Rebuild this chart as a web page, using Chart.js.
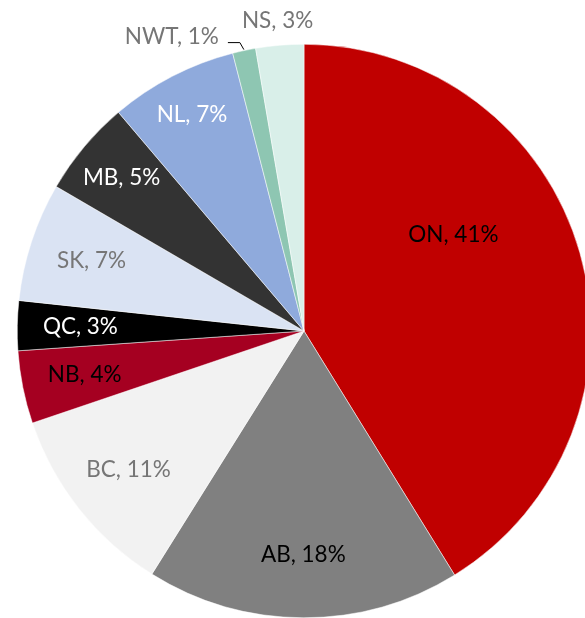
<!DOCTYPE html>
<html>
<head>
<meta charset="utf-8">
<script src="https://cdn.jsdelivr.net/npm/chart.js@4/dist/chart.umd.min.js"></script>
<style>
  html, body { margin: 0; padding: 0; background: #fff; overflow: hidden; }
  #wrap { width: 585px; height: 618px; overflow: hidden; }
</style>
</head>
<body>
<div id="wrap"><canvas id="pie" width="600" height="618"></canvas></div>
<script>
// share by province
const provinces = ['ON', 'AB', 'BC', 'NB', 'QC', 'SK', 'MB', 'NL', 'NWT', 'NS'];
const shares = [41.2, 17.7, 10.9, 4.1, 2.8, 6.7, 5.4, 7.2, 1.3, 2.7];
const sliceColors = ['#C00000', '#808080', '#F2F2F2', '#A50021', '#000000',
                     '#DAE3F3', '#333333', '#8FAADC', '#8EC6B2', '#D9EFE9'];
const labelColors = ['#000', '#000', '#767676', '#000', '#fff',
                     '#767676', '#fff', '#fff', '#767676', '#767676'];

// label placement: fraction of radius, angle shift in degrees, or outside
const labelPlace = {
    ON: { r: 0.62, shift: -17 },
    MB: { r: 0.83, shift: 0 },
    NL: { r: 0.85, shift: 0 },
    NWT: { outside: 'leader' },
    NS: { outside: 'plain' }
};

const total = shares.reduce((a, b) => a + b, 0);
const FONT = '22.5px "Source Sans Pro", Lato, "Noto Sans", sans-serif';

const labelPlugin = {
    id: 'sliceLabels',
    afterDatasetsDraw(chart) {
        const ctx = chart.ctx;
        const arcs = chart.getDatasetMeta(0).data;
        ctx.save();
        ctx.font = FONT;
        arcs.forEach((arc, i) => {
            const name = provinces[i];
            const text = name + ', ' + Math.round(shares[i] / total * 100) + '%';
            const place = labelPlace[name] || { r: 0.78, shift: 0 };
            const R = arc.outerRadius;
            let mid = (arc.startAngle + arc.endAngle) / 2;
            ctx.fillStyle = labelColors[i];
            if (place.outside === 'plain') {
                const x = arc.x + Math.cos(mid) * (R + 25);
                const y = arc.y + Math.sin(mid) * (R + 25);
                ctx.textAlign = 'center';
                ctx.textBaseline = 'middle';
                ctx.fillText(text, x, y);
            } else if (place.outside === 'leader') {
                const x0 = arc.x + Math.cos(mid) * (R + 1);
                const y0 = arc.y + Math.sin(mid) * (R + 1);
                const x1 = x0 - 4, y1 = y0 - 7;
                const x2 = x1 - 12;
                ctx.strokeStyle = '#000';
                ctx.lineWidth = 1;
                ctx.beginPath();
                ctx.moveTo(x0, y0);
                ctx.lineTo(x1, y1);
                ctx.lineTo(x2, y1);
                ctx.stroke();
                ctx.textAlign = 'right';
                ctx.textBaseline = 'alphabetic';
                ctx.fillText(text, x2 - 9, y1 + 1);
            } else {
                mid += place.shift * Math.PI / 180;
                const x = arc.x + Math.cos(mid) * R * place.r;
                const y = arc.y + Math.sin(mid) * R * place.r;
                ctx.textAlign = 'center';
                ctx.textBaseline = 'middle';
                ctx.fillText(text, x, y);
            }
        });
        ctx.restore();
    }
};

new Chart(document.getElementById('pie').getContext('2d'), {
    type: 'pie',
    data: {
        labels: provinces,
        datasets: [{
            data: shares,
            backgroundColor: sliceColors,
            borderColor: '#fff',
            borderWidth: 0.5
        }]
    },
    options: {
        responsive: false,
        animation: false,
        layout: { padding: { left: 17, right: 9, top: 44, bottom: 0 } },
        plugins: {
            legend: { display: false },
            tooltip: { enabled: false }
        }
    },
    plugins: [labelPlugin]
});
</script>
</body>
</html>
